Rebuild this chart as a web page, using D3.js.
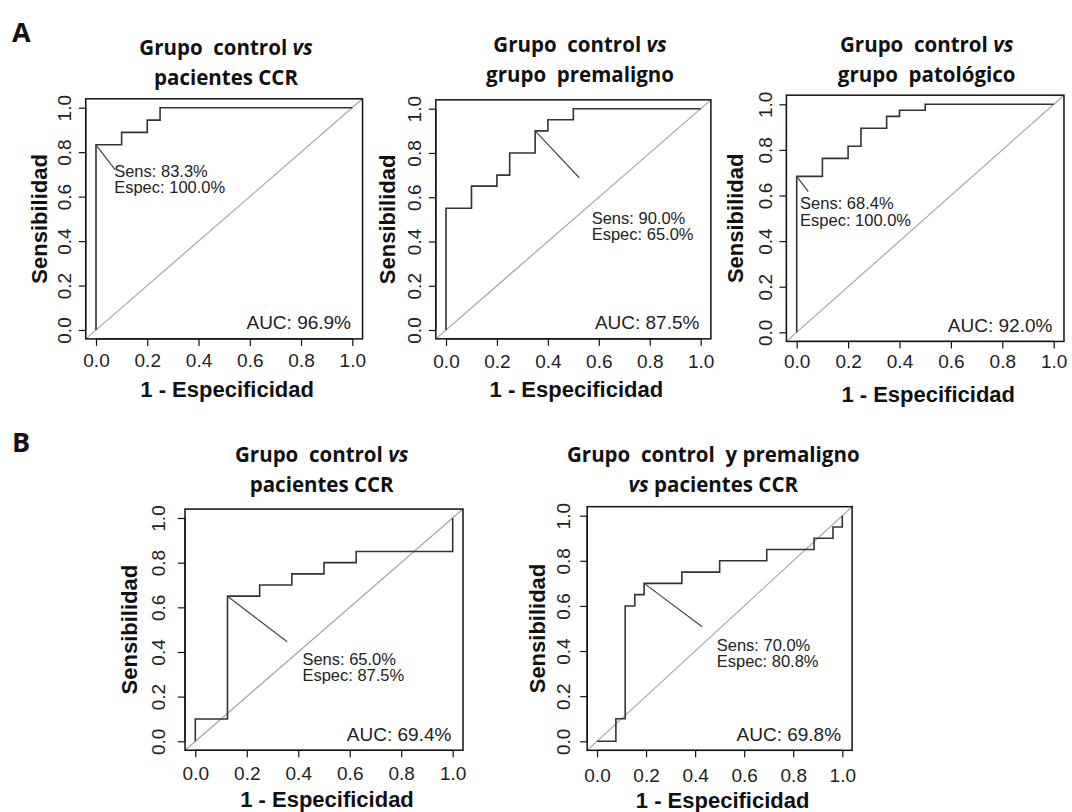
<!DOCTYPE html>
<html>
<head>
<meta charset="utf-8">
<script src="https://cdn.jsdelivr.net/npm/d3@7"></script>
<style>
	body { margin: 0; background: #fff; }
	svg text { white-space: pre; }
	.rtext { font-family: "Liberation Sans", Arial, sans-serif; fill: #222; }
	.title { font-family: "Open Sans", Lato, sans-serif; font-weight: bold; font-size: 20.5px; fill: #111; }
</style>
</head>
<body>
<svg id="chart" width="1072" height="812"></svg>
<script>
/*
 * ROC curves, panels A and B
 */

var TICKS = [0, 0.2, 0.4, 0.6, 0.8, 1.0];
var TICK_LABELS = ["0.0", "0.2", "0.4", "0.6", "0.8", "1.0"];
var PAD = 0.04;
var TICK_LEN = 7;

var panelTitles = [
	["Grupo  control vs", "pacientes CCR"],
	["Grupo  control vs", "grupo  premaligno"],
	["Grupo  control vs", "grupo  patológico"],
	["Grupo  control vs", "pacientes CCR"],
	["Grupo  control  y premaligno", "vs pacientes CCR"]
];

// curve vertices, 1 - specificity
var fprCtrlCcr = [0, 0, 0.1, 0.1, 0.2, 0.2, 0.25, 0.25, 1];
var tprCtrlCcr = [0, 0.833, 0.833, 0.889, 0.889, 0.944, 0.944, 1, 1];

var fprCtrlPre = [0, 0, 0.1, 0.1, 0.2, 0.2, 0.25, 0.25, 0.35, 0.35, 0.4, 0.4, 0.5, 0.5, 1];
var tprCtrlPre = [0, 0.55, 0.55, 0.65, 0.65, 0.70, 0.70, 0.80, 0.80, 0.90, 0.90, 0.95, 0.95, 1, 1];

var fprCtrlPat = [0, 0, 0.1, 0.1, 0.2, 0.2, 0.25, 0.25, 0.35, 0.35, 0.4, 0.4, 0.5, 0.5, 1];
var tprCtrlPat = [0, 0.684, 0.684, 0.763, 0.763, 0.816, 0.816, 0.895, 0.895, 0.947, 0.947, 0.974, 0.974, 1, 1];

var fprBCtrlCcr = [0, 0, 0.125, 0.125, 0.25, 0.25, 0.375, 0.375, 0.5, 0.5, 0.625, 0.625, 1, 1];
var tprBCtrlCcr = [0, 0.10, 0.10, 0.65, 0.65, 0.70, 0.70, 0.75, 0.75, 0.80, 0.80, 0.85, 0.85, 1];

var fprBCtrlPreCcr = [0, 0.077, 0.077, 0.115, 0.115, 0.154, 0.154, 0.192, 0.192, 0.346, 0.346, 0.5, 0.5, 0.692, 0.692, 0.885, 0.885, 0.962, 0.962, 1, 1];
var tprBCtrlPreCcr = [0, 0, 0.10, 0.10, 0.60, 0.60, 0.65, 0.65, 0.70, 0.70, 0.75, 0.75, 0.80, 0.80, 0.85, 0.85, 0.90, 0.90, 0.95, 0.95, 1];

var curveFpr = [fprCtrlCcr, fprCtrlPre, fprCtrlPat, fprBCtrlCcr, fprBCtrlPreCcr];
var curveTpr = [tprCtrlCcr, tprCtrlPre, tprCtrlPat, tprBCtrlCcr, tprBCtrlPreCcr];

// best threshold
var bestFpr = [0, 0.35, 0, 0.125, 0.192];
var bestTpr = [0.833, 0.90, 0.684, 0.65, 0.70];
var sensLabels = ["83.3%", "90.0%", "68.4%", "65.0%", "70.0%"];
var specLabels = ["100.0%", "65.0%", "100.0%", "87.5%", "80.8%"];
var aucLabels = ["96.9%", "87.5%", "92.0%", "69.4%", "69.8%"];

// where the leader line ends and the text sits (axis units)
var leaderEnd = [[0.075, 0.72], [0.523, 0.688], [0.045, 0.617], [0.357, 0.446], [0.429, 0.508]];
var textAt = [[0.071, 0.69], [0.572, 0.479], [0.013, 0.539], [0.416, 0.342], [0.488, 0.402]];

// pixel positions of 0 and 1 on each panel
var layout = [
	{x0: 96, x1: 352.3, y0: 330, y1: 107.7, titleX: 226, titleY: 55, yLabX: 47, yTickX: 71, xTickY: 367, xLabY: 397},
	{x0: 446, x1: 700.7, y0: 330, y1: 108.7, titleX: 580, titleY: 51.7, yLabX: 395, yTickX: 421, xTickY: 368, xLabY: 397},
	{x0: 796.7, x1: 1053.7, y0: 332.3, y1: 104.3, titleX: 926.7, titleY: 51.7, yLabX: 743, yTickX: 771.5, xTickY: 368.3, xLabY: 402},
	{x0: 195.3, x1: 452.7, y0: 741.3, y1: 518, titleX: 321.7, titleY: 461.7, yLabX: 136.7, yTickX: 165, xTickY: 780, xLabY: 807},
	{x0: 597, x1: 842.3, y0: 741.3, y1: 515.7, titleX: 713.3, titleY: 461.7, yLabX: 545, yTickX: 570, xTickY: 781.7, xLabY: 808}
];

var svg = d3.select("#chart");

function drawTitle(i) {
	var L = layout[i];
	panelTitles[i].forEach(function(line, k) {
		var t = svg.append("text")
			.attr("class", "title")
			.attr("x", L.titleX)
			.attr("y", L.titleY + k * 30)
			.attr("text-anchor", "middle");
		line.split(/(vs)/).forEach(function(part) {
			if (part == "") return;
			t.append("tspan")
				.style("font-style", part == "vs" ? "italic" : "normal")
				.text(part);
		});
	});
}

function drawPanel(i) {
	var L = layout[i];

	var x = d3.scaleLinear().domain([0, 1]).range([L.x0, L.x1]);
	var y = d3.scaleLinear().domain([0, 1]).range([L.y0, L.y1]);

	var left = x(-PAD), right = x(1 + PAD), top = y(1 + PAD), bottom = y(-PAD);

	var g = svg.append("g");

	// diagonal
	g.append("line")
		.attr("x1", x(-PAD)).attr("y1", y(-PAD))
		.attr("x2", x(1 + PAD)).attr("y2", y(1 + PAD))
		.style("stroke", "#a6a6a6")
		.style("stroke-width", 1.2);

	var pts = curveFpr[i].map(function(f, k) { return [f, curveTpr[i][k]]; });
	var line = d3.line()
		.x(function(d) { return x(d[0]); })
		.y(function(d) { return y(d[1]); });

	g.append("path")
		.attr("d", line(pts))
		.style("fill", "none")
		.style("stroke", "#333")
		.style("stroke-width", 1.6);

	// leader line and text
	g.append("line")
		.attr("x1", x(bestFpr[i])).attr("y1", y(bestTpr[i]))
		.attr("x2", x(leaderEnd[i][0])).attr("y2", y(leaderEnd[i][1]))
		.style("stroke", "#444")
		.style("stroke-width", 1.2);

	var tx = x(textAt[i][0]), ty = y(textAt[i][1]);
	g.selectAll("text.ann")
		.data(["Sens: " + sensLabels[i], "Espec: " + specLabels[i]])
		.enter()
		.append("text")
		.attr("class", "rtext ann")
		.attr("x", tx)
		.attr("y", function(d, k) { return ty + k * 16.5; })
		.style("font-size", "16.5px")
		.text(function(d) { return d; });

	g.append("text")
		.attr("class", "rtext")
		.attr("x", x(0.995))
		.attr("y", y(0.003))
		.attr("text-anchor", "end")
		.style("font-size", "19px")
		.text("AUC: " + aucLabels[i]);

	// box
	g.append("rect")
		.attr("x", left).attr("y", top)
		.attr("width", right - left).attr("height", bottom - top)
		.style("fill", "none")
		.style("stroke", "#111")
		.style("stroke-width", 1.5);

	// axes
	var xAxis = d3.axisBottom(x)
		.tickValues(TICKS)
		.tickFormat(function(d, k) { return TICK_LABELS[k]; })
		.tickSize(TICK_LEN)
		.tickSizeOuter(0);

	var gx = g.append("g")
		.attr("transform", "translate(0," + bottom + ")")
		.call(xAxis);
	gx.select(".domain").remove();
	gx.append("line")
		.attr("x1", x(0)).attr("x2", x(1))
		.style("stroke", "#111").style("stroke-width", 1.2);
	gx.selectAll(".tick line").style("stroke", "#111").style("stroke-width", 1.2);
	gx.selectAll(".tick text")
		.attr("class", "rtext")
		.attr("y", L.xTickY - bottom)
		.attr("dy", 0)
		.style("font-size", "19px");

	var yAxis = d3.axisLeft(y)
		.tickValues(TICKS)
		.tickFormat(function(d, k) { return TICK_LABELS[k]; })
		.tickSize(TICK_LEN)
		.tickSizeOuter(0);

	var gy = g.append("g")
		.attr("transform", "translate(" + left + ",0)")
		.call(yAxis);
	gy.select(".domain").remove();
	gy.append("line")
		.attr("y1", y(0)).attr("y2", y(1))
		.style("stroke", "#111").style("stroke-width", 1.2);
	gy.selectAll(".tick line").style("stroke", "#111").style("stroke-width", 1.2);
	gy.selectAll(".tick text")
		.attr("class", "rtext")
		.attr("transform", "rotate(-90)")
		.attr("x", 0)
		.attr("y", -(left - L.yTickX))
		.attr("dy", 0)
		.attr("text-anchor", "middle")
		.style("font-size", "19px");

	// axis titles
	svg.append("text")
		.attr("x", (left + right) / 2 + 3)
		.attr("y", L.xLabY)
		.attr("text-anchor", "middle")
		.style("font-family", "'Liberation Sans', Arial, sans-serif")
		.style("font-weight", "bold")
		.style("font-size", "22px")
		.style("fill", "#111")
		.text("1 - Especificidad");

	svg.append("text")
		.attr("transform", "translate(" + L.yLabX + "," + (top + bottom) / 2 + ") rotate(-90)")
		.attr("text-anchor", "middle")
		.style("font-family", "'Liberation Sans', Arial, sans-serif")
		.style("font-weight", "bold")
		.style("font-size", "22px")
		.style("fill", "#111")
		.text("Sensibilidad");

	drawTitle(i);
}

for (var i = 0; i < layout.length; i++) {
	drawPanel(i);
}

// panel letters
svg.selectAll("text.letter")
	.data([["A", 42], ["B", 452]])
	.enter()
	.append("text")
	.attr("class", "letter")
	.attr("x", 12)
	.attr("y", function(d) { return d[1]; })
	.style("font-family", "'Open Sans', sans-serif")
	.style("font-weight", "bold")
	.style("font-size", "27px")
	.style("fill", "#111")
	.text(function(d) { return d[0]; });
</script>
</body>
</html>
